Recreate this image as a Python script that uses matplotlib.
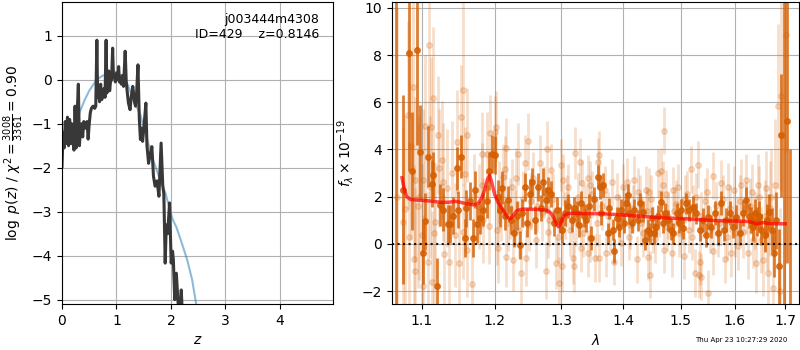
import numpy as np
import matplotlib
matplotlib.use("Agg")
import matplotlib.pyplot as plt
from matplotlib.ticker import FixedLocator, FixedFormatter, NullLocator

# --- p(z) panel -----------------------------------------------------------
z_fit = [0.00, 0.02, 0.04, 0.06, 0.08, 0.10, 0.12, 0.14, 0.16, 0.18, 0.20, 0.22,
         0.24, 0.26, 0.28, 0.30, 0.32, 0.34, 0.36, 0.38, 0.40, 0.43, 0.46, 0.48,
         0.50, 0.52, 0.54, 0.57, 0.60, 0.62, 0.64, 0.655, 0.67, 0.69, 0.71, 0.73,
         0.75, 0.77, 0.79, 0.81, 0.825, 0.84, 0.86, 0.875, 0.89, 0.91, 0.93, 0.945,
         0.96, 0.98, 1.00, 1.02, 1.04, 1.055, 1.07, 1.09, 1.11, 1.13, 1.16, 1.18,
         1.20, 1.22, 1.25, 1.27, 1.30, 1.33, 1.35, 1.37, 1.395, 1.42, 1.44, 1.46,
         1.48, 1.51, 1.54, 1.56, 1.59, 1.62, 1.65, 1.68, 1.71, 1.745, 1.78, 1.82,
         1.85, 1.87, 1.895, 1.915, 1.94, 1.975, 2.005, 2.03, 2.045, 2.07, 2.10,
         2.13, 2.16, 2.19, 2.22, 2.30, 2.50]
logpz = [-1.97, -1.2, -1.55, -0.95, -1.45, -0.85, -1.5, -0.9, -1.45, -1.0, -1.4, -1.6,
         -0.6, -1.55, -0.75, -0.1, -1.5, -1.1, -1.0, -1.3, -0.95, -1.1, -0.95, -1.35,
         -1.0, -0.75, -0.65, -0.6, -0.65, -0.6, 0.9, -0.4, -0.25, -0.5, -0.1, -0.45,
         -0.35, -0.2, -0.4, 0.9, -0.3, -0.1, 0.2, -0.25, -0.05, 0.0, 0.72, 0.05,
         0.1, -0.05, 0.15, 0.0, 0.3, -0.05, 0.05, -0.1, 0.1, -0.15, 0.65, -0.05,
         -0.3, -0.53, -0.68, -0.4, -0.15, -0.5, -0.6, -0.3, 0.34, -0.9, -1.36, -1.1,
         -1.4, -1.0, -0.53, -1.5, -1.9, -1.7, -1.52, -2.2, -2.42, -2.3, -2.65, -1.44,
         -2.4, -2.6, -4.17, -3.3, -3.5, -2.8, -4.17, -3.9, -4.1, -5.0, -4.4,
         -5.05, -5.4, -4.78, -5.6, -7.0, -9.0]

z_prior = [0.00, 0.03, 0.08, 0.14, 0.20, 0.26, 0.33, 0.42, 0.50, 0.58, 0.66, 0.74,
           0.82, 0.90, 0.98, 1.04, 1.10, 1.16, 1.22, 1.28, 1.35, 1.44, 1.53, 1.65,
           1.78, 1.90, 1.99, 2.04, 2.10, 2.18, 2.30, 2.39, 2.46, 2.52]
logp_prior = [-1.55, -1.2, -1.08, -1.12, -1.15, -1.0, -0.72, -0.45, -0.25, -0.1, 0.02, 0.09,
              0.12, 0.15, 0.18, 0.14, 0.08, 0.0, -0.15, -0.35, -0.55, -0.8, -1.2, -1.74,
              -2.2, -2.58, -3.0, -3.2, -3.35, -3.64, -4.1, -4.55, -5.07, -5.5]

# --- spectrum panel (wavelength in micron, flux in 1e-19) -------------------
dark_wave = [1.066, 1.0752, 1.0830, 1.0869, 1.0934, 1.0974, 1.1013, 1.1040, 1.1079, 1.1132,
             1.1145, 1.1198, 1.1238, 1.1279, 1.1346, 1.1373, 1.1414, 1.1469, 1.1483, 1.1524,
             1.1580, 1.1594, 1.1650, 1.1692, 1.1720, 1.1748, 1.1790, 1.1834, 1.1892, 1.1920,
             1.1963, 1.2006, 1.2045, 1.2080, 1.2107, 1.2150, 1.2195, 1.2239, 1.2280, 1.2325,
             1.2369, 1.2403, 1.2443, 1.2477, 1.2518, 1.2557, 1.2594, 1.2644, 1.2680, 1.2720,
             1.2761, 1.2797, 1.2847, 1.2885, 1.2925, 1.2978, 1.3015, 1.3056, 1.3110, 1.3160,
             1.3200, 1.3240, 1.3280, 1.3315, 1.3355, 1.3395, 1.3435, 1.3476, 1.3520, 1.3579,
             1.3610, 1.3633, 1.3670, 1.3741, 1.3767, 1.3824, 1.3851, 1.3890, 1.3925, 1.3963,
             1.4005, 1.4047, 1.4077, 1.4104, 1.4145, 1.4188, 1.4246, 1.4285, 1.4331, 1.4375,
             1.4417, 1.4457, 1.4495, 1.4531, 1.4561, 1.4600, 1.4648, 1.4685, 1.4724, 1.4766,
             1.4825, 1.4866, 1.4927, 1.4965, 1.5004, 1.5045, 1.5094, 1.5153, 1.5215, 1.5276,
             1.5343, 1.5405, 1.5466, 1.5497, 1.5559, 1.5622, 1.5684, 1.5747, 1.5798, 1.5841,
             1.5906, 1.5969, 1.6033, 1.6098, 1.6162, 1.6226, 1.6270, 1.6312, 1.6357, 1.6400,
             1.6441, 1.6480, 1.6520, 1.6587, 1.6625, 1.6666, 1.6733, 1.6773, 1.6818, 1.6867,
             1.6919, 1.6984, 1.7041, 1.7089]
dark_flux = [11.0, 2.3, 8.1, 3.1, 8.2, 3.9, -0.4, 0.95, 3.7, 2.55,
             2.9, -1.8, 1.65, 1.45, 0.85, 0.85, 1.2, 3.2, 1.45, 3.7,
             0.25, 1.5, 1.8, 0.25, 2.3, 0.85, 1.1, 1.45, 1.8, 3.1,
             3.8, 3.77, 2.0, 1.43, 2.37, 1.2, 1.86, 1.0, 0.45, 1.2,
             -0.05, 1.3, 2.41, 0.9, 2.13, 2.63, 1.0, 2.41, 1.5, 2.63,
             1.86, 2.27, 2.13, 0.9, 1.43, 1.0, 0.6, 1.3, 1.6, 1.0,
             1.5, 1.3, 0.8, 1.72, 1.2, 1.0, 1.6, 0.25, 1.9, 2.85,
             2.4, 1.3, 2.5, 0.45, 1.5, 0.6, -0.3, 1.1, 0.73, 1.43,
             0.9, 1.72, 2.07, 1.3, 0.9, 1.43, 1.0, 1.72, 1.37, 0.17,
             0.6, 0.45, 1.1, 0.45, 0.73, 1.2, 1.78, 0.9, 1.3, 1.0,
             0.6, 0.45, 1.3, 0.9, 1.43, 0.65, 1.72, 1.43, 1.58, 1.3,
             0.6, 1.0, 0.37, 1.14, 0.73, 1.3, 0.45, 1.72, 0.6, 1.0,
             1.3, 0.73, 1.14, 0.45, 1.3, 1.86, 1.2, 1.0, 0.73, 1.3,
             0.94, 1.2, 0.6, 0.37, 1.0, 1.37, 0.6, -0.4, 1.0, -0.96,
             4.6, 11.0, 5.2, -3.0]
dark_err = [14, 4.0, 5.0, 2.5, 4.0, 2.0, 1.3, 1.2, 1.3, 1.0,
            1.0, 1.2, 0.9, 0.9, 0.8, 0.8, 0.8, 0.9, 0.8, 0.9,
            0.8, 0.8, 0.8, 0.8, 0.8, 0.8, 0.7, 0.7, 0.7, 0.8,
            0.8, 0.8, 0.7, 0.7, 0.7, 0.6, 0.6, 0.6, 0.6, 0.6,
            0.6, 0.6, 0.6, 0.6, 0.6, 0.6, 0.6, 0.6, 0.55, 0.6,
            0.55, 0.55, 0.55, 0.55, 0.55, 0.55, 0.55, 0.55, 0.5, 0.5,
            0.5, 0.5, 0.5, 0.5, 0.5, 0.5, 0.5, 0.5, 0.5, 0.5,
            0.5, 0.5, 0.5, 0.45, 0.45, 0.45, 0.5, 0.45, 0.45, 0.45,
            0.45, 0.45, 0.45, 0.45, 0.45, 0.45, 0.45, 0.45, 0.45, 0.45,
            0.45, 0.45, 0.45, 0.45, 0.45, 0.45, 0.45, 0.45, 0.45, 0.45,
            0.45, 0.45, 0.45, 0.45, 0.45, 0.45, 0.45, 0.45, 0.45, 0.45,
            0.5, 0.5, 0.5, 0.5, 0.5, 0.5, 0.5, 0.5, 0.5, 0.5,
            0.5, 0.5, 0.5, 0.5, 0.55, 0.55, 0.55, 0.55, 0.6, 0.6,
            0.6, 0.6, 0.65, 0.7, 0.7, 0.75, 0.9, 1.0, 1.2, 1.6,
            2.6, 14.0, 6.0, 7.0]

light_wave = [1.0680, 1.0756, 1.0778, 1.0821, 1.0825, 1.0852, 1.0886, 1.0890, 1.0908, 1.0912,
              1.0951, 1.0964, 1.0996, 1.1009, 1.1017, 1.1040, 1.1083, 1.1096, 1.1102, 1.1115,
              1.1128, 1.1151, 1.1155, 1.1173, 1.1217, 1.1230, 1.1263, 1.1284, 1.1288, 1.1329,
              1.1366, 1.1398, 1.1442, 1.1465, 1.1501, 1.1522, 1.1549, 1.1553, 1.1580, 1.1603,
              1.1607, 1.1686, 1.1704, 1.1778, 1.1816, 1.1820, 1.1838, 1.1889, 1.1925, 1.1935,
              1.2002, 1.2025, 1.2028, 1.2050, 1.2122, 1.2146, 1.2170, 1.2172, 1.2230, 1.2268,
              1.2317, 1.2341, 1.2391, 1.2441, 1.2464, 1.2490, 1.2540, 1.2615, 1.2666, 1.2700,
              1.2769, 1.2778, 1.2810, 1.2844, 1.2921, 1.2962, 1.2999, 1.3014, 1.3026, 1.3090,
              1.3130, 1.3183, 1.3194, 1.3210, 1.3260, 1.3289, 1.3314, 1.3330, 1.3341, 1.3421,
              1.3425, 1.3449, 1.3460, 1.3530, 1.3579, 1.3594, 1.3603, 1.3650, 1.3715, 1.3781,
              1.3851, 1.3900, 1.3963, 1.4020, 1.4059, 1.4120, 1.4187, 1.4233, 1.4280, 1.4331,
              1.4380, 1.4417, 1.4444, 1.4450, 1.4504, 1.4591, 1.4649, 1.4706, 1.4710, 1.4736,
              1.4780, 1.4843, 1.4855, 1.4910, 1.4975, 1.5063, 1.5110, 1.5153, 1.5185, 1.5230,
              1.5264, 1.5307, 1.5326, 1.5343, 1.5374, 1.5440, 1.5498, 1.5591, 1.5595, 1.5684,
              1.5747, 1.5811, 1.5873, 1.5937, 1.6001, 1.6065, 1.6129, 1.6225, 1.6259, 1.6300,
              1.6357, 1.6421, 1.6480, 1.6520, 1.6554, 1.6619, 1.6653, 1.6700, 1.6753, 1.6800,
              1.6853, 1.6889, 1.6919, 1.7022]
light_flux = [2.0, 0.94, 1.47, 5.46, 0.31, 4.15, 6.64, -0.65, 2.71, -1.15,
              1.61, 1.98, 0.38, -1.78, 2.7, 4.99, -0.75, 8.43, 2.4, 4.93,
              -1.6, 6.2, 0.45, 0.94, 4.6, 3.2, 3.56, 2.63, -0.43, 2.37,
              -0.79, 3.0, 0.38, 4.3, -0.82, 5.37, 6.5, 0.52, 2.97, 4.6,
              -0.25, -1.7, 2.02, 1.58, 3.8, 2.48, 1.0, 3.8, 0.74, 4.7,
              4.75, 4.96, 0.59, -0.18, 2.85, 3.16, 4.05, -0.54, 1.5, -0.68,
              2.78, 3.8, -1.24, 3.42, -0.6, 4.35, 1.8, 0.17, 3.42, 1.3,
              -1.13, 4.0, 1.0, 3.14, -0.82, -1.67, 3.35, -0.96, 2.71, 1.8,
              0.6, -0.6, -0.96, 3.83, 2.0, 3.48, -0.18, 2.57, 0.45, 2.78,
              -0.4, 2.5, 0.25, -0.6, 3.48, 3.77, -0.6, 1.6, -0.4, 0.52,
              -0.75, 2.0, 0.04, 1.5, 2.63, 0.8, 2.71, -0.65, 1.9, 0.45,
              2.3, -0.55, 2.2, -1.3, 0.6, 3.0, 3.07, 4.79, -0.25, 2.13,
              1.2, -0.4, 2.27, 1.7, 0.45, -0.5, 2.1, 0.6, 3.16, 1.5,
              -1.24, 3.35, -1.3, -0.75, -1.4, 1.8, -2.1, 2.88, -0.3, 0.45,
              2.57, -0.65, 2.41, -0.4, 0.45, -0.1, 2.5, 2.71, -0.4, 1.6,
              0.17, -0.8, 2.0, 0.17, -0.7, 2.35, -1.24, 1.5, -1.88, 2.5,
              5.82, -2.0, 6.25, 8.85]
light_err = [8, 4, 4, 4, 4, 4, 4, 4, 3.5, 3.5,
             3.5, 3.5, 3, 3, 3, 3, 3, 3.5, 3, 3,
             3, 3, 3, 2.5, 2.5, 2.5, 2.5, 2.5, 2.5, 2.5,
             2.5, 2.2, 2.2, 2.2, 2.2, 2.2, 4, 2, 2, 2,
             2, 2, 1.8, 1.8, 1.8, 1.8, 1.8, 1.8, 1.6, 1.6,
             1.5, 1.5, 1.5, 1.5, 1.4, 1.4, 1.3, 1.3, 1.3, 1.3,
             1.3, 1.3, 1.3, 1.2, 1.2, 1.2, 1.2, 1.2, 1.2, 1.2,
             1.2, 1.2, 1.1, 1.1, 1.1, 1.1, 1.1, 1.1, 1.1, 1.1,
             1.1, 1.1, 1.1, 1.1, 1.0, 1.0, 1.0, 1.0, 1.0, 1.0,
             1.0, 1.0, 1.0, 1.0, 1.0, 1.0, 1.0, 1.0, 1.0, 1.0,
             1.0, 1.0, 1.0, 1.0, 1.0, 1.0, 1.0, 1.0, 1.0, 1.0,
             1.0, 1.0, 1.0, 1.0, 1.0, 1.0, 1.0, 1.0, 1.0, 1.0,
             1.0, 1.0, 1.0, 1.0, 1.0, 1.0, 1.0, 1.0, 1.0, 1.0,
             1.0, 1.0, 1.0, 1.0, 1.0, 1.0, 1.0, 1.0, 1.0, 1.0,
             1.0, 1.0, 1.0, 1.0, 1.0, 1.0, 1.1, 1.1, 1.1, 1.2,
             1.2, 1.3, 1.3, 1.4, 1.5, 1.6, 1.7, 2.0, 2.2, 2.8,
             3.5, 3.5, 4, 5]

# second pass of faint points sitting closer to the continuum
light2_wave = [1.2060, 1.2095, 1.2200, 1.2250, 1.2290, 1.2360, 1.2420, 1.2510, 1.2570, 1.2630,
               1.2730, 1.2790, 1.2870, 1.2940, 1.3050, 1.3110, 1.3230, 1.3370, 1.3490, 1.3560,
               1.3690, 1.3750, 1.3820, 1.3930, 1.4000, 1.4090, 1.4160, 1.4250, 1.4300, 1.4400,
               1.4480, 1.4550, 1.4620, 1.4680, 1.4760, 1.4880, 1.4950, 1.5020, 1.5080, 1.5200,
               1.5280, 1.5370, 1.5480, 1.5540, 1.5640, 1.5720, 1.5780, 1.5850, 1.5920, 1.5990,
               1.6040, 1.6100, 1.6170, 1.6210, 1.6330, 1.6390, 1.6450, 1.6590, 1.6640, 1.6720]
light2_flux = [2.2, 1.4, 0.9, 2.4, 1.1, 0.6, 1.9, 0.8, 2.8, 1.6,
               2.2, 0.5, 1.9, 0.3, 1.2, 2.4, 0.9, 1.5, 2.1, 0.9,
               2.3, 1.2, 2.6, 1.1, 2.4, 0.3, 1.5, 2.2, 0.9, 1.4,
               1.9, 0.2, 1.3, 2.5, 0.7, 1.4, 2.4, 1.0, 1.9, 0.3,
               2.0, 1.2, 2.2, 0.6, 1.6, 0.9, 1.9, 0.3, 1.5, 2.3,
               1.0, 1.8, 0.5, 1.5, 2.2, 1.0, 2.5, 1.2, 0.5, 2.0]
light2_err = [1.3, 1.3, 1.2, 1.2, 1.2, 1.2, 1.2, 1.1, 1.1, 1.1,
              1.1, 1.1, 1.1, 1.1, 1.0, 1.0, 1.0, 1.0, 1.0, 1.0,
              1.0, 1.0, 1.0, 1.0, 1.0, 1.0, 1.0, 1.0, 1.0, 1.0,
              1.0, 1.0, 1.0, 1.0, 1.0, 1.0, 1.0, 1.0, 1.0, 1.0,
              1.0, 1.0, 1.0, 1.0, 1.0, 1.0, 1.0, 1.0, 1.0, 1.0,
              1.0, 1.1, 1.1, 1.1, 1.2, 1.2, 1.3, 1.5, 1.6, 2.0]

model_wave = [1.074, 1.077, 1.080, 1.085, 1.095, 1.105, 1.115, 1.125, 1.135, 1.145,
              1.152, 1.160, 1.170, 1.176, 1.181, 1.186, 1.190, 1.193, 1.196, 1.200,
              1.205, 1.212, 1.218, 1.222, 1.226, 1.232, 1.240, 1.250, 1.265, 1.278,
              1.284, 1.289, 1.293, 1.296, 1.300, 1.304, 1.310, 1.320, 1.335, 1.350,
              1.370, 1.390, 1.410, 1.430, 1.450, 1.470, 1.490, 1.510, 1.530, 1.550,
              1.570, 1.590, 1.610, 1.625, 1.635, 1.642, 1.650, 1.657, 1.665, 1.680, 1.700]
model_flux = [2.8, 2.3, 2.0, 1.88, 1.85, 1.83, 1.8, 1.76, 1.76, 1.8,
              1.76, 1.7, 1.65, 1.7, 1.9, 2.3, 2.75, 2.9, 2.6, 2.1,
              1.75, 1.45, 1.15, 1.05, 1.15, 1.4, 1.47, 1.47, 1.45, 1.42,
              1.3, 1.05, 0.8, 0.72, 0.95, 1.2, 1.28, 1.3, 1.28, 1.28,
              1.27, 1.24, 1.2, 1.17, 1.13, 1.1, 1.08, 1.06, 1.03, 1.0,
              0.98, 0.97, 0.96, 0.95, 0.9, 0.85, 0.88, 0.9, 0.86, 0.85, 0.85]

wave_ticks = [1.1, 1.2, 1.3, 1.4, 1.5, 1.6, 1.7]

grism_color = (0.835, 0.369, 0.0)

fig = plt.figure(figsize=(8, 3.5), dpi=100)

# left: redshift probability
ax = fig.add_axes([0.0775, 0.1314, 0.339, 0.863])
ax.plot(z_prior, logp_prior, color='tab:blue', alpha=0.5, lw=1.5)
ax.plot(z_fit, logpz, color='0.22', lw=2.2)
ax.set_xlim(0, 4.98)
ax.set_ylim(-5.1, 1.77)
ax.set_xticks([0, 1, 2, 3, 4])
ax.set_yticks([-5, -4, -3, -2, -1, 0, 1])
ax.grid()
ax.set_xlabel(r'$z$')
ax.set_ylabel(r'$\log\ p(z)$' + ' / ' + r'$\chi^2=\frac{3008}{3361}=0.90$')
ax.text(0.95, 0.965, 'j003444m4308\nID=429    z=0.8146', ha='right', va='top',
        transform=ax.transAxes, fontsize=9)

# right: 1D spectrum
ax2 = fig.add_axes([0.49, 0.1314, 0.509, 0.863])
for w, f, e in [(light_wave, light_flux, light_err), (light2_wave, light2_flux, light2_err)]:
    ax2.errorbar(w, f, e, color=grism_color, alpha=0.2, marker='o', ms=4,
                 linestyle='None', elinewidth=2.0, zorder=1.8)
ax2.errorbar(dark_wave, dark_flux, dark_err, color=grism_color, alpha=0.8,
             marker='o', ms=4, linestyle='None', elinewidth=2.0, zorder=2)
ax2.plot(model_wave, model_flux, color='r', alpha=0.7, lw=2.5, zorder=3)
ax2.axhline(0, color='k', linestyle=':', lw=1.5, alpha=0.9, zorder=4)

ax2.set_xscale('log')
ax2.set_xlim(1.0612, 1.7287)
ax2.set_ylim(-2.55, 10.25)
ax2.xaxis.set_major_locator(FixedLocator(wave_ticks))
ax2.xaxis.set_major_formatter(FixedFormatter([f'{w:.1f}' for w in wave_ticks]))
ax2.xaxis.set_minor_locator(NullLocator())
ax2.grid()
ax2.set_xlabel(r'$\lambda$')
ax2.set_ylabel(r'$f_\lambda\times 10^{-19}$')

fig.text(0.984, 0.02, 'Thu Apr 23 10:27:29 2020', ha='right', va='bottom', fontsize=5)

fig.savefig('out.png', dpi=100)
